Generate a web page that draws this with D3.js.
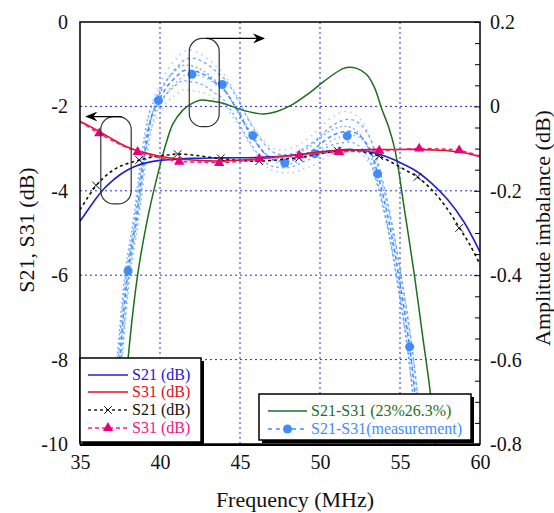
<!DOCTYPE html>
<html lang="en">
<head>
<meta charset="UTF-8">
<title>S21 S31 amplitude imbalance</title>
<script src="https://cdn.jsdelivr.net/npm/d3@7"></script>
<style>
  body { margin: 0; background: #fff; }
</style>
</head>
<body>
<svg id="chart" width="554" height="513"></svg>
<script>
// ---- data ----
const xTicks = [35, 40, 45, 50, 55, 60]
const leftTicks = [0, -2, -4, -6, -8, -10]
const rightTicks = [0.2, 0, -0.2, -0.4, -0.6, -0.8]
const rightMinor = [0.15, 0.1, 0.05, -0.05, -0.1, -0.15, -0.25, -0.3, -0.35, -0.45, -0.5, -0.55, -0.65, -0.7, -0.75]

// simulated S21 / S31 (left axis, dB)
const s21Sim = [[35, -4.72], [35.5, -4.45], [36, -4.18], [36.5, -3.95], [37, -3.77], [37.5, -3.62], [38, -3.5],
  [38.5, -3.41], [39, -3.35], [40, -3.28], [41, -3.25], [42, -3.23], [44, -3.22], [46, -3.21], [48, -3.17],
  [50, -3.08], [51, -3.04], [52, -3.02], [53, -3.07], [54, -3.17], [55, -3.33], [56, -3.53], [57, -3.83],
  [58, -4.22], [59, -4.74], [60, -5.45]]
const s31Sim = [[35, -2.36], [35.5, -2.45], [36, -2.55], [36.5, -2.66], [37, -2.77], [37.5, -2.88], [38, -2.97],
  [38.75, -3.07], [39.5, -3.14], [40, -3.18], [41, -3.24], [42, -3.27], [43, -3.29], [44, -3.29], [45, -3.27],
  [46, -3.25], [47, -3.21], [48, -3.17], [49, -3.13], [50, -3.08], [51, -3.05], [52, -3.03], [53, -3.02],
  [54, -3.02], [55, -3.02], [56, -3.02], [57, -3.03], [58, -3.05], [59, -3.1], [60, -3.19]]

// measured S21 / S31 (left axis, dB)
const s21Meas = [[35, -4.45], [35.5, -4.15], [36, -3.88], [36.5, -3.68], [37, -3.53], [37.5, -3.42], [38, -3.35],
  [38.75, -3.27], [39.5, -3.2], [40.5, -3.15], [41.1, -3.13], [42, -3.15], [43, -3.2], [44, -3.25], [45, -3.28],
  [46, -3.3], [47, -3.28], [48, -3.24], [49, -3.2], [50, -3.12], [51, -3.07], [52, -3.05], [53, -3.1],
  [53.7, -3.18], [54.5, -3.33], [55.3, -3.5], [56.1, -3.68], [57, -3.98], [57.9, -4.4], [58.75, -4.9],
  [59.4, -5.3], [60, -5.75]]
const s21MeasMarks = [[36.0, -3.87], [38.7, -3.27], [41.1, -3.13], [43.8, -3.23], [46.2, -3.3], [48.7, -3.22],
  [51.1, -3.05], [53.7, -3.18], [56.1, -3.67], [58.7, -4.88]]
const s31Meas = [[35, -2.36], [36.2, -2.64], [37.5, -2.9], [38.6, -3.08], [40, -3.22], [41.2, -3.3], [42.5, -3.32],
  [43.7, -3.33], [45, -3.3], [46.2, -3.25], [47.5, -3.2], [48.7, -3.16], [50, -3.11], [51.2, -3.08],
  [52.5, -3.06], [53.7, -3.05], [55, -3.02], [56.2, -3.0], [57.5, -3.01], [58.7, -3.04], [60, -3.18]]
const s31MeasMarks = [[36.2, -2.64], [38.6, -3.08], [41.2, -3.31], [43.7, -3.34], [46.2, -3.24], [48.7, -3.16],
  [51.2, -3.08], [53.7, -3.05], [56.2, -3.0], [58.7, -3.04]]

// S21-S31 (right axis, dB)
const diffSim = [[37.6, -0.8], [38.0, -0.6], [38.6, -0.4], [39.2, -0.27], [39.8, -0.17], [40.4, -0.085],
  [40.8, -0.042], [41.4, -0.01], [41.9, 0.005], [42.5, 0.0145], [43.2, 0.013], [43.75, 0.009], [44.5, 0.0],
  [45, -0.007], [46, -0.016], [46.5, -0.018], [47.3, -0.012], [48.3, 0.005], [49.2, 0.028], [50, 0.052],
  [50.8, 0.075], [51.4, 0.089], [51.8, 0.093], [52.3, 0.09], [52.9, 0.076], [53.4, 0.045], [53.85, -0.005],
  [54.3, -0.05], [54.7, -0.106], [55.3, -0.25], [55.9, -0.4], [56.4, -0.54], [56.9, -0.68], [57.2, -0.8]]
// measured trace: [MHz, centre, half spread of the noise]
const diffMeas = [[37.1, -0.8, 0.014], [37.5, -0.59, 0.014], [38.0, -0.39, 0.016], [38.5, -0.27, 0.02],
  [39.0, -0.12, 0.022], [39.5, -0.02, 0.028], [40.0, 0.02, 0.034], [40.5, 0.05, 0.038], [41.0, 0.07, 0.042],
  [41.5, 0.085, 0.045], [42.0, 0.085, 0.048], [42.5, 0.08, 0.045], [43.0, 0.07, 0.042], [43.5, 0.055, 0.04],
  [44, 0.04, 0.036], [44.5, 0.012, 0.034], [45, -0.02, 0.03], [45.5, -0.055, 0.028], [46, -0.085, 0.028],
  [46.5, -0.11, 0.028], [47, -0.125, 0.026], [47.5, -0.13, 0.026], [48, -0.13, 0.028], [48.5, -0.125, 0.03],
  [49, -0.115, 0.032], [49.5, -0.105, 0.036], [50, -0.09, 0.04], [50.5, -0.075, 0.042], [51, -0.065, 0.045],
  [51.5, -0.06, 0.048], [52, -0.06, 0.045], [52.5, -0.07, 0.04], [53, -0.095, 0.034], [53.3, -0.12, 0.028],
  [53.6, -0.16, 0.022], [54, -0.22, 0.018], [54.5, -0.31, 0.014], [55, -0.42, 0.014], [55.6, -0.57, 0.014],
  [56, -0.7, 0.014], [56.3, -0.8, 0.014]]
const diffMeasMarks = [[38.0, -0.39], [39.9, 0.014], [42.0, 0.076], [43.9, 0.052], [45.8, -0.069],
  [47.8, -0.134], [49.7, -0.112], [51.7, -0.07], [53.6, -0.16], [55.6, -0.57]]

// annotation pills [f0, f1, top, bottom] on the left axis, and arrows [fFrom, fTo, level]
const pills = [[36.3, 38.2, -2.24, -4.31], [41.83, 43.7, -0.39, -2.48]]
const arrows = [[37.6, 35.4, -2.24], [42.9, 46.5, -0.39]]

const legendLeft = [
  { label: 'S21 (dB)', color: '#2020d0', line: '#2020d0', dash: null, mark: null },
  { label: 'S31 (dB)', color: '#e0101c', line: '#e0101c', dash: null, mark: null },
  { label: 'S21 (dB)', color: '#111', line: '#222', dash: '3,3', mark: 'x' },
  { label: 'S31 (dB)', color: '#f0148a', line: '#ff1a8c', dash: '4,3', mark: 'tri' }
]
const legendRight = [
  { label: 'S21-S31 (23%26.3%)', color: '#1f6e1f', line: '#1f6e1f', dash: null, mark: null },
  { label: 'S21-S31(measurement)', color: '#3f8cff', line: '#3f8cff', dash: '4,4', mark: 'dot' }
]

// ---- drawing ----
const serif = '"Liberation Serif", "Times New Roman", Times, serif'
const svg = d3.select('#chart').attr('font-family', serif)
const pLeft = 80, pRight = 480, pTop = 22, pBottom = 444

const x = d3.scaleLinear().domain([35, 60]).range([pLeft, pRight])
const yL = d3.scaleLinear().domain([-10, 0]).range([pBottom, pTop])
const yR = d3.scaleLinear().domain([-0.8, 0.2]).range([pBottom, pTop])

const defs = svg.append('defs')
defs.append('clipPath').attr('id', 'plot')
  .append('rect').attr('x', pLeft).attr('y', pTop).attr('width', pRight - pLeft).attr('height', pBottom - pTop)

defs.append('marker')
  .attr('id', 'head').attr('viewBox', '0 0 12 10').attr('refX', 11).attr('refY', 5)
  .attr('markerWidth', 12).attr('markerHeight', 10).attr('markerUnits', 'userSpaceOnUse')
  .attr('orient', 'auto')
  .append('path').attr('d', 'M0,0 L12,5 L0,10 L4,5 Z').attr('fill', '#000')

// grid
const grid = svg.append('g')
grid.selectAll('.gx').data(xTicks.slice(1, -1)).enter().append('line')
  .attr('x1', d => x(d)).attr('x2', d => x(d)).attr('y1', pTop).attr('y2', pBottom)
grid.selectAll('.gy').data(leftTicks.slice(1, -1)).enter().append('line')
  .attr('x1', pLeft).attr('x2', pRight).attr('y1', d => yL(d)).attr('y2', d => yL(d))
grid.selectAll('line').attr('stroke', '#2b2bd6').attr('stroke-width', 1).attr('stroke-dasharray', '2,3')

const plot = svg.append('g').attr('clip-path', 'url(#plot)')

const lineL = d3.line().x(d => x(d[0])).y(d => yL(d[1])).curve(d3.curveCatmullRom)
const lineR = d3.line().x(d => x(d[0])).y(d => yR(d[1])).curve(d3.curveCatmullRom)

// measured imbalance: the noise band is drawn as dashed traces across the spread
// each trace: [vertical share of the spread, sideways shift in MHz, dash]
const bandTraces = [[-1, 0, '1.5,4'], [-0.55, -0.12, '2.5,3'], [-0.2, 0.15, '1.5,3.5'],
  [0.25, -0.15, '2,2.5'], [0.6, 0.12, '3,3'], [1, 0, '1.5,4.5']]
bandTraces.forEach((t, i) => {
  const band = d3.line().x(d => x(d[0] + t[1])).y(d => yR(d[1] + t[0] * d[2])).curve(d3.curveCatmullRom)
  plot.append('path').datum(diffMeas).attr('d', band)
    .attr('fill', 'none').attr('stroke', '#559aff')
    .attr('stroke-opacity', Math.abs(t[0]) === 1 ? 0.55 : 0.8)
    .attr('stroke-width', 1.4).attr('stroke-dasharray', t[2]).attr('stroke-dashoffset', i * 1.7)
})
plot.append('path').datum(diffMeas).attr('d', lineR)
  .attr('fill', 'none').attr('stroke', '#3f8cff').attr('stroke-width', 1.5).attr('stroke-dasharray', '4,3')

plot.append('path').datum(diffSim).attr('d', lineR)
  .attr('fill', 'none').attr('stroke', '#1f6e1f').attr('stroke-width', 1.5)

plot.selectAll('.md').data(diffMeasMarks).enter().append('circle')
  .attr('cx', d => x(d[0])).attr('cy', d => yR(d[1])).attr('r', 4.5).attr('fill', '#3f8cff')

plot.append('path').datum(s21Sim).attr('d', lineL)
  .attr('fill', 'none').attr('stroke', '#2020d0').attr('stroke-width', 1.6)
plot.append('path').datum(s21Meas).attr('d', lineL)
  .attr('fill', 'none').attr('stroke', '#111').attr('stroke-width', 1.6).attr('stroke-dasharray', '3,3')
plot.append('path').datum(s31Sim).attr('d', lineL)
  .attr('fill', 'none').attr('stroke', '#e0101c').attr('stroke-width', 1.6)
plot.append('path').datum(s31Meas).attr('d', lineL)
  .attr('fill', 'none').attr('stroke', '#ff1a8c').attr('stroke-width', 1.6).attr('stroke-dasharray', '4,3')

const cross = d3.symbol().type(d3.symbolX).size(40)
const tri = d3.symbol().type(d3.symbolTriangle).size(45)
plot.selectAll('.mx').data(s21MeasMarks).enter().append('path')
  .attr('d', cross).attr('transform', d => `translate(${x(d[0])},${yL(d[1])})`)
  .attr('fill', 'none').attr('stroke', '#111').attr('stroke-width', 1)
plot.selectAll('.mt').data(s31MeasMarks).enter().append('path')
  .attr('d', tri).attr('transform', d => `translate(${x(d[0])},${yL(d[1])})`)
  .attr('fill', '#e8007e')

// annotations
svg.selectAll('.pill').data(pills).enter().append('rect')
  .attr('x', d => x(d[0])).attr('y', d => yL(d[2]))
  .attr('width', d => x(d[1]) - x(d[0])).attr('height', d => yL(d[3]) - yL(d[2]))
  .attr('rx', 13).attr('ry', 13)
  .attr('fill', 'none').attr('stroke', '#333').attr('stroke-width', 1.2)
svg.selectAll('.arrow').data(arrows).enter().append('line')
  .attr('x1', d => x(d[0])).attr('x2', d => x(d[1])).attr('y1', d => yL(d[2])).attr('y2', d => yL(d[2]))
  .attr('stroke', '#000').attr('stroke-width', 1.2).attr('marker-end', 'url(#head)')

// frame
svg.append('rect').attr('x', pLeft).attr('y', pTop).attr('width', pRight - pLeft).attr('height', pBottom - pTop)
  .attr('fill', 'none').attr('stroke', '#000').attr('stroke-width', 1.5)
svg.append('line').attr('x1', pLeft).attr('x2', pRight).attr('y1', pBottom + 1).attr('y2', pBottom + 1)
  .attr('stroke', '#000').attr('stroke-width', 2)

// axes
const fmt = d => String(d)
const xAxis = svg.append('g').attr('transform', `translate(0,${pBottom})`)
  .call(d3.axisBottom(x).tickValues(xTicks).tickFormat(fmt).tickSize(0).tickPadding(11))
const lAxis = svg.append('g').attr('transform', `translate(${pLeft},0)`)
  .call(d3.axisLeft(yL).tickValues(leftTicks).tickFormat(fmt).tickSize(0).tickPadding(12))
const rAxis = svg.append('g').attr('transform', `translate(${pRight},0)`)
  .call(d3.axisRight(yR).tickValues(rightTicks).tickFormat(fmt).tickSize(-6).tickPadding(10))
const rMinor = svg.append('g').attr('transform', `translate(${pRight},0)`)
  .call(d3.axisRight(yR).tickValues(rightMinor).tickFormat('').tickSize(-5))
;[xAxis, lAxis, rAxis, rMinor].forEach(g => {
  g.attr('font-family', serif).attr('font-size', 20)
  g.select('.domain').remove()
  g.selectAll('.tick line').attr('stroke', '#000')
  g.selectAll('text').attr('fill', '#111')
})

svg.append('text').attr('x', 295).attr('y', 507).attr('text-anchor', 'middle')
  .attr('font-size', 22).attr('fill', '#111').text('Frequency (MHz)')
svg.append('text').attr('transform', `translate(34,230) rotate(-90)`)
  .attr('text-anchor', 'middle').attr('font-size', 22).attr('fill', '#111').text('S21, S31 (dB)')
svg.append('text').attr('transform', `translate(550,228) rotate(-90)`)
  .attr('text-anchor', 'middle').attr('font-size', 22).attr('fill', '#111').text('Amplitude imbalance (dB)')

// legends
function legend(items, bx, by, bw, bh, sx0, sx1, tx, rowY) {
  const g = svg.append('g')
  g.append('rect').attr('x', bx + 3).attr('y', by + 3).attr('width', bw).attr('height', bh).attr('fill', '#000')
  g.append('rect').attr('x', bx).attr('y', by).attr('width', bw).attr('height', bh)
    .attr('fill', '#fff').attr('stroke', '#000').attr('stroke-width', 1.5)
  items.forEach((it, i) => {
    const yy = rowY[i]
    g.append('line').attr('x1', sx0).attr('x2', sx1).attr('y1', yy).attr('y2', yy)
      .attr('stroke', it.line).attr('stroke-width', 1.4).attr('stroke-dasharray', it.dash)
    const mx = (sx0 + sx1) / 2
    if (it.mark === 'x') {
      g.append('path').attr('d', cross).attr('transform', `translate(${mx},${yy})`)
        .attr('fill', 'none').attr('stroke', '#111').attr('stroke-width', 1)
    }
    if (it.mark === 'tri') {
      g.append('path').attr('d', tri).attr('transform', `translate(${mx},${yy})`).attr('fill', '#e8007e')
    }
    if (it.mark === 'dot') {
      g.append('circle').attr('cx', mx).attr('cy', yy).attr('r', 4.5).attr('fill', '#3f8cff')
    }
    g.append('text').attr('x', tx).attr('y', yy + 5).attr('font-size', 16)
      .attr('fill', it.color).text(it.label)
  })
}
legend(legendLeft, 80, 358, 121, 84, 88, 128, 132, [375, 392, 410, 428])
legend(legendRight, 259, 394, 212, 46, 268, 307, 311, [411, 429])
</script>
</body>
</html>
